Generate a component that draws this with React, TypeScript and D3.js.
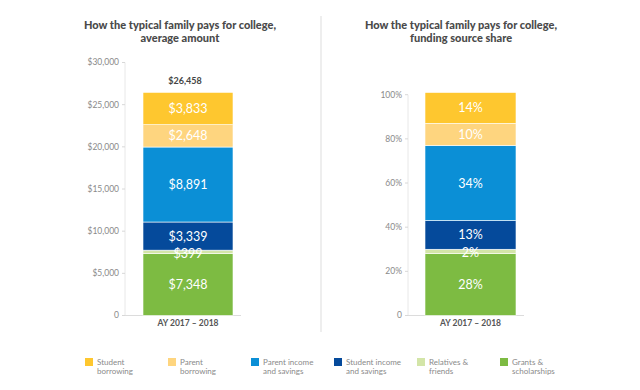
import React from 'react'
import * as d3 from 'd3'

// stacked bottom -> top
const sources = ['Grants & scholarships', 'Relatives & friends', 'Student income and savings', 'Parent income and savings', 'Parent borrowing', 'Student borrowing']
const amounts = [7348, 399, 3339, 8891, 2648, 3833]
const shares = [28, 2, 13, 34, 10, 14]
const colors = ['#7dbb42', '#d3e5a8', '#054a9b', '#0b8fd6', '#fed57f', '#fec72f']
const category = 'AY 2017 – 2018'
const amountTicks = [0, 5000, 10000, 15000, 20000, 25000, 30000]
const shareTicks = [0, 20, 40, 60, 80, 100]

// legend order (left -> right) with two-line labels
const legendItems = [
  ['Student', 'borrowing'],
  ['Parent', 'borrowing'],
  ['Parent income', 'and savings'],
  ['Student income', 'and savings'],
  ['Relatives &', 'friends'],
  ['Grants &', 'scholarships'],
]
const legendColors = ['#fec72f', '#fed57f', '#0b8fd6', '#054a9b', '#d3e5a8', '#7dbb42']

const font = 'Lato, "Open Sans", sans-serif'

function Panel(props: any) {
  const {values, ticks, domainMax, top, axisX, barX0, barX1, fmt, tickFmt, title, titleX, totalLabel} = props
  const y = d3.scaleLinear().domain([0, domainMax]).range([315.5, top])
  const x = d3.scaleBand().domain([category]).range([barX0, barX1]).padding(0)
  let acc = 0
  const stack = values.map((v: number, i: number) => {
    const s = {y0: acc, y1: acc + v, v, c: colors[i]}
    acc += v
    return s
  })
  const bw = x.bandwidth()
  const bx = x(category) as number
  return (
    <g>
      <text x={titleX} y={29} textAnchor="middle" fontSize={11} fontWeight={900} fill="#4a4a4a" fontFamily={font}>{title[0]}</text>
      <text x={titleX} y={42} textAnchor="middle" fontSize={11} fontWeight={900} fill="#4a4a4a" fontFamily={font}>{title[1]}</text>
      <line x1={axisX} x2={axisX} y1={y(domainMax)} y2={y(0)} stroke="#e8e8e8" strokeWidth={1} />
      <line x1={axisX} x2={bx + bw + 8} y1={y(0)} y2={y(0)} stroke="#dcdcdc" strokeWidth={1} />
      {ticks.map((t: number) => (
        <g key={t}>
          <line x1={axisX - 3} x2={axisX} y1={y(t)} y2={y(t)} stroke="#d8d8d8" />
          <text x={axisX - 6} y={y(t)} dy="0.35em" textAnchor="end" fontSize={8.5} fill="#8a8a8a" fontFamily={font}>{tickFmt(t)}</text>
        </g>
      ))}
      {stack.map((s: any, i: number) => (
        <rect key={i} x={bx} width={bw} y={y(s.y1)} height={y(s.y0) - y(s.y1)} fill={s.c} stroke="#fff" strokeWidth={0.6} />
      ))}
      {stack.map((s: any, i: number) => (
        <text key={'l' + i} x={bx + bw / 2} y={(y(s.y0) + y(s.y1)) / 2 + (s.v / domainMax < 0.03 ? 1.5 : 0)} dy="0.36em" textAnchor="middle" fontSize={12.5} fill="#fff" fontFamily={font}>{fmt(s.v)}</text>
      ))}
      {totalLabel ? (
        <text x={bx + bw / 2 - 3} y={y(acc) - 8} textAnchor="middle" fontSize={9} fontWeight={700} fill="#444" fontFamily={font}>{totalLabel}</text>
      ) : null}
      <text x={bx + bw / 2} y={326} textAnchor="middle" fontSize={8.5} fontWeight={700} fill="#555" fontFamily={font}>{category}</text>
    </g>
  )
}

export default function App() {
  const money = d3.format('$,')
  const total = d3.sum(amounts)
  const lx = d3.scaleBand().domain(legendItems.map((d) => d[0])).range([85, 583])
  return (
    <svg width={640} height={390} style={{position: 'absolute', left: 0, top: 0, background: '#fff'}}>
      <Panel
        values={amounts}
        ticks={amountTicks}
        domainMax={30000}
        top={62.5}
        axisX={125}
        barX0={143}
        barX1={233}
        fmt={(v: number) => money(v)}
        tickFmt={(t: number) => (t === 0 ? '0' : money(t))}
        title={['How the typical family pays for college,', 'average amount']}
        titleX={180}
        totalLabel={money(total)}
      />
      <line x1={321} x2={321} y1={16} y2={332} stroke="#e8e8e8" strokeWidth={1.5} />
      <Panel
        values={shares}
        ticks={shareTicks}
        domainMax={100}
        top={94.7}
        axisX={408}
        barX0={425}
        barX1={516}
        fmt={(v: number) => v + '%'}
        tickFmt={(t: number) => (t === 0 ? '0' : t + '%')}
        title={['How the typical family pays for college,', 'funding source share']}
        titleX={461}
        totalLabel={null}
      />
      {legendItems.map((d, i) => {
        const x0 = lx(d[0]) as number
        return (
          <g key={i}>
            <rect x={x0} y={358} width={8} height={8} fill={legendColors[i]} />
            <text x={x0 + 12} y={365} fontSize={8} fill="#8a8a8a" fontFamily={font}>{d[0]}</text>
            <text x={x0 + 12} y={374} fontSize={8} fill="#8a8a8a" fontFamily={font}>{d[1]}</text>
          </g>
        )
      })}
    </svg>
  )
}
